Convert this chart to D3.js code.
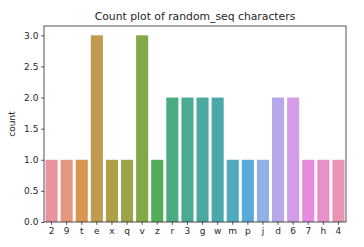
<!DOCTYPE html>
<html>
<head>
<meta charset="utf-8">
<script src="https://cdn.jsdelivr.net/npm/d3@7"></script>
<style>
  body { margin: 0; background: #fff; }
  text { font-family: "DejaVu Sans", sans-serif; fill: #262626; }
</style>
</head>
<body>
<div id="chart"></div>
<script>
let chars = ["2","9","t","e","x","q","v","z","r","3","g","w","m","p","j","d","6","7","h","4"];
let counts = [1,1,1,3,1,1,3,1,2,2,2,2,1,1,1,2,2,1,1,1];
let colors = ["#e8919f","#e6957f","#d9964e","#c09a4e","#ae9f4a","#9ca447","#82a847","#4fae57",
              "#4aab80","#4aab93","#4aa8a0","#4aa8ab","#4faabe","#59a9d9","#92afe6","#b5a9ea",
              "#d49be6","#e68bdf","#e891c9","#e994b4"];
let yTicks = [0, 0.5, 1, 1.5, 2, 2.5, 3];

let w = 364, h = 247, m = { top: 26, right: 18, bottom: 25, left: 44 };
let gw = w - m.left - m.right, gh = h - m.top - m.bottom;

let svg = d3.select("#chart").append("svg").attr("width", w).attr("height", h);
let g = svg.append("g").attr("transform", `translate(${m.left},${m.top})`);

let xS = d3.scaleBand().domain(chars).range([0, gw]).paddingInner(0.2).paddingOuter(0.1);
let yS = d3.scaleLinear().domain([0, 3.15]).range([gh, 0]);

g.selectAll("rect.bar")
    .data(chars).enter().append("rect")
    .attr("class", "bar")
    .attr("x", d => xS(d))
    .attr("width", xS.bandwidth())
    .attr("y", (d, i) => yS(counts[i]))
    .attr("height", (d, i) => gh - yS(counts[i]))
    .attr("fill", (d, i) => colors[i]);

let xAx = g.append("g").attr("transform", `translate(0,${gh})`)
    .call(d3.axisBottom(xS).tickSize(2.8).tickPadding(2.8));
let yAx = g.append("g")
    .call(d3.axisLeft(yS).tickValues(yTicks).tickFormat(d3.format(".1f")).tickSize(2.8).tickPadding(2.8));

[xAx, yAx].forEach(a => {
    a.select(".domain").remove();
    a.selectAll("line").attr("stroke", "#262626").attr("stroke-width", 0.8);
    a.selectAll("text").style("font-size", "9px").attr("fill", "#262626");
});

g.append("rect").attr("width", gw).attr("height", gh)
    .attr("fill", "none").attr("stroke", "#262626").attr("stroke-width", 0.8);

svg.append("text").attr("x", m.left + gw / 2).attr("y", 20)
    .attr("text-anchor", "middle").style("font-size", "10.8px")
    .text("Count plot of random_seq characters");

svg.append("text")
    .attr("transform", `translate(15,${m.top + gh / 2}) rotate(-90)`)
    .attr("text-anchor", "middle").style("font-size", "9px")
    .text("count");
</script>
</body>
</html>
